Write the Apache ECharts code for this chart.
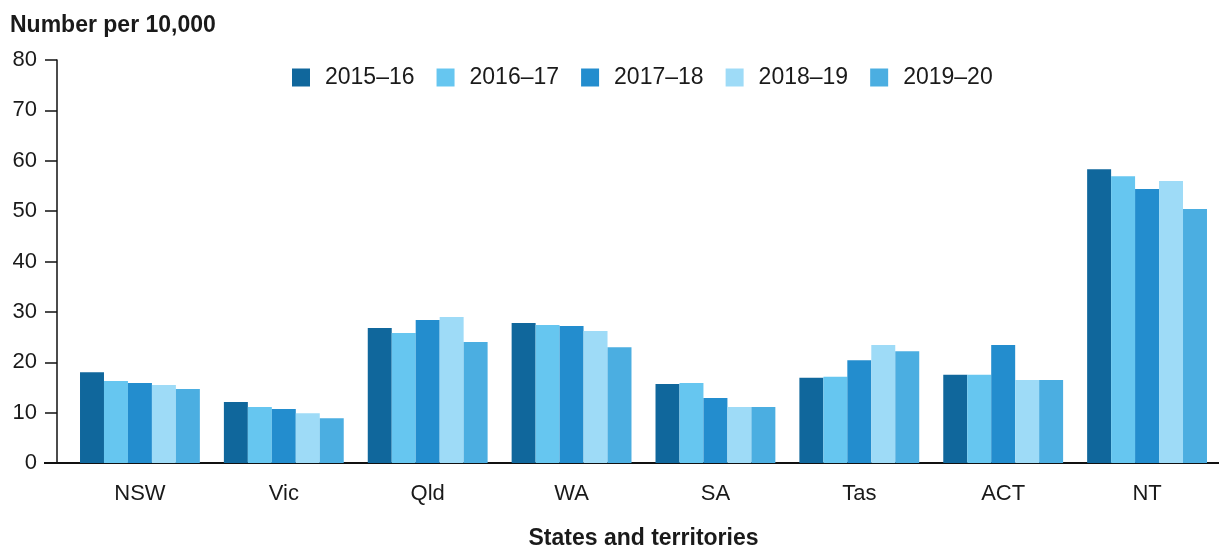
<!DOCTYPE html>
<html>
<head>
<meta charset="utf-8">
<script src="https://cdn.jsdelivr.net/npm/echarts@6/dist/echarts.min.js"></script>
<style>
  html, body { margin: 0; padding: 0; background: #fff; }
  #chart { width: 1219px; height: 547px; }
</style>
</head>
<body>
<div id="chart"></div>
<script>
const states = ['NSW', 'Vic', 'Qld', 'WA', 'SA', 'Tas', 'ACT', 'NT']
const years = ['2015–16', '2016–17', '2017–18', '2018–19', '2019–20']
const y2015 = [18.0, 12.1, 26.8, 27.8, 15.7, 16.9, 17.5, 58.3]
const y2016 = [16.3, 11.1, 25.8, 27.4, 15.9, 17.1, 17.5, 56.9]
const y2017 = [15.9, 10.7, 28.4, 27.2, 12.9, 20.4, 23.4, 54.4]
const y2018 = [15.5, 9.9, 29.0, 26.2, 11.1, 23.4, 16.5, 56.0]
const y2019 = [14.7, 8.9, 24.0, 23.0, 11.1, 22.2, 16.5, 50.4]
const yTicks = [0, 10, 20, 30, 40, 50, 60, 70, 80]

const colors = ['#10679C', '#66C6F0', '#238DCE', '#9EDBF7', '#4BAEE1']
const seriesData = [y2015, y2016, y2017, y2018, y2019]
const font = 'Arial, "Liberation Sans", sans-serif'

const chart = echarts.init(document.getElementById('chart'))
chart.setOption({
  animation: false,
  color: colors,
  textStyle: { fontFamily: font },
  title: {
    text: 'Number per 10,000',
    left: 5,
    top: 9,
    textStyle: { fontSize: 23, fontWeight: 'bold', color: '#1a1a1a', fontFamily: font }
  },
  legend: {
    left: 287,
    top: 61,
    itemWidth: 18,
    itemHeight: 18,
    itemGap: 22,
    icon: 'rect',
    textStyle: { fontSize: 23, color: '#1a1a1a', padding: [0, 0, 0, 10] },
    data: years
  },
  grid: {
    left: 68,
    right: 0,
    top: 60,
    bottom: 84,
    outerBoundsMode: 'none'
  },
  xAxis: {
    type: 'category',
    data: states,
    name: 'States and territories',
    nameLocation: 'middle',
    nameGap: 64,
    nameTextStyle: { fontSize: 23, fontWeight: 'bold', color: '#1a1a1a' },
    axisTick: { show: false },
    axisLine: { lineStyle: { color: '#111', width: 2 } },
    axisLabel: { fontSize: 22, color: '#1a1a1a', margin: 20 }
  },
  yAxis: {
    type: 'value',
    min: yTicks[0],
    max: yTicks[yTicks.length - 1],
    interval: 10,
    offset: 11,
    axisLine: { show: true, lineStyle: { color: '#111', width: 1.5 } },
    axisTick: { show: true, length: 12, lineStyle: { color: '#111', width: 1.5 } },
    splitLine: { show: false },
    axisLabel: { fontSize: 22, color: '#1a1a1a', margin: 20 }
  },
  series: seriesData.map((data, i) => ({
    name: years[i],
    type: 'bar',
    barGap: 0,
    barCategoryGap: '16.7%',
    data: data
  }))
})

// extend the x-axis baseline left to meet the offset y-axis
const origin = chart.convertToPixel({ gridIndex: 0 }, [0, 0])
chart.setOption({
  graphic: [{
    type: 'line',
    shape: { x1: 44, y1: origin[1], x2: 70, y2: origin[1] },
    style: { stroke: '#111', lineWidth: 2 }
  }]
})
</script>
</body>
</html>
